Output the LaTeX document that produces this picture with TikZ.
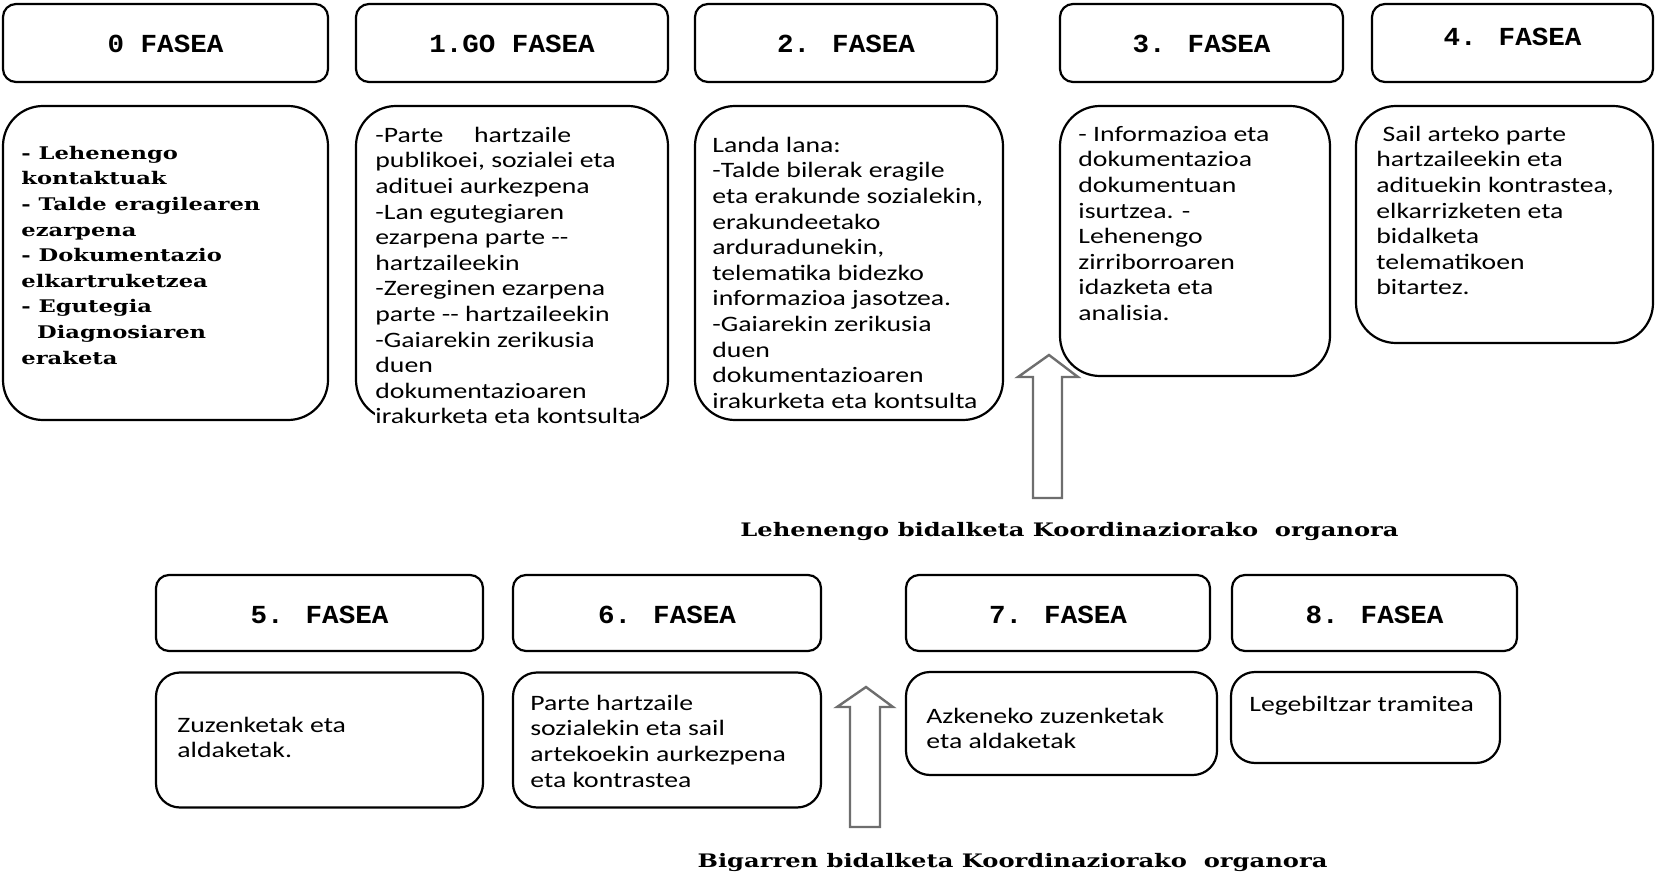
\documentclass[tikz,border=0pt]{standalone}
\usepackage{fontspec}
\usepackage{tikz}
\usetikzlibrary{positioning}
\newfontfamily\headfont[FakeStretch=1.06]{Liberation Mono}
\newfontfamily\bodyfont[FakeStretch=1.26]{Carlito}
\newfontfamily\slabfont[FakeStretch=1.3]{DejaVu Serif}
\definecolor{arrowgray}{RGB}{110,110,110}
\tikzstyle{fasehead} = [rectangle, rounded corners=6.5pt, draw=black, line width=1.1pt, inner sep=0pt, text height=10pt, text depth=0pt, font=\headfont\bfseries\fontsize{13}{15}\selectfont]
\tikzstyle{fasebox} = [rectangle, rounded corners=20pt, draw=black, line width=1.1pt, inner sep=0pt]
\tikzstyle{smallbox} = [fasebox, rounded corners=12pt]
\tikzstyle{fasetext} = [anchor=north west, inner sep=0pt, align=left, font=\bodyfont\fontsize{11}{12.8}\selectfont]
\tikzstyle{slabtext} = [fasetext, font=\slabfont\bfseries\fontsize{8.7}{12.8}\selectfont]
\tikzstyle{sendlabel} = [inner sep=0pt, font=\slabfont\bfseries\fontsize{9.3}{12}\selectfont]
\tikzstyle{blockarrow} = [draw=arrowgray, line width=1.2pt, fill=white, line join=miter]

\begin{document}
\begin{tikzpicture}[x=0.5pt,y=-0.5pt]
\useasboundingbox (0,0) rectangle (1655,877);
% Upper row: phase titles
\node (h0) [fasehead, minimum width=162.5pt, minimum height=39pt] at (165.5,43) {0 FASEA};
\node (h1) [fasehead, minimum width=156pt, minimum height=39pt] at (512,43) {1.GO FASEA};
\node (h2) [fasehead, minimum width=151pt, minimum height=39pt] at (846,43) {2. FASEA};
\node (h3) [fasehead, minimum width=141.5pt, minimum height=39pt] at (1201.5,43) {3. FASEA};
\node (h4) [fasehead, minimum width=140.5pt, minimum height=39pt, text height=7pt, text depth=4pt] at (1512.5,43) {4. FASEA};

% Upper row: phase contents
\node (c0) [fasebox, minimum width=162.5pt, minimum height=157pt] at (165.5,263) {};
\node (c1) [fasebox, minimum width=156pt, minimum height=157pt] at (512,263) {};
\node (c2) [fasebox, minimum width=154pt, minimum height=157pt] at (849,263) {};
\node (c3) [fasebox, minimum width=135pt, minimum height=135pt] at (1195,241) {};
\node (c4) [fasebox, minimum width=148.5pt, minimum height=118.5pt] at (1504.5,224.5) {};

\node (t0) [slabtext] at (21,141) {\strut- Lehenengo\\kontaktuak\\- Talde eragilearen\\ezarpena\\- Dokumentazio\\elkartruketzea\\- Egutegia\\\ \ Diagnosiaren\\eraketa};
\node (t1) [fasetext, fill=white] at (375,124) {\strut-Parte\hspace{1.4em}hartzaile\\publikoei, sozialei eta\\adituei aurkezpena\\-Lan egutegiaren\\ezarpena parte --\\hartzaileekin\\-Zereginen ezarpena\\parte -- hartzaileekin\\-Gaiarekin zerikusia\\duen\\dokumentazioaren\\irakurketa eta kontsulta};
\node (t2) [fasetext, fill=white] at (712,134) {\strut Landa lana:\\-Talde bilerak eragile\\eta erakunde sozialekin,\\erakundeetako\\arduradunekin,\\telematika bidezko\\informazioa jasotzea.\\-Gaiarekin zerikusia\\duen\\dokumentazioaren\\irakurketa eta kontsulta};
\node (t3) [fasetext] at (1078,123) {\strut- Informazioa eta\\dokumentazioa\\dokumentuan\\isurtzea. -\\Lehenengo\\zirriborroaren\\idazketa eta\\analisia.};
\node (t4) [fasetext] at (1376,123) {\strut\ Sail arteko parte\\hartzaileekin eta\\adituekin kontrastea,\\elkarrizketen eta\\bidalketa\\telematikoen\\bitartez.};

% First sending
\coordinate (a1tip) at (1049,355);
\draw[blockarrow] (a1tip) -- (1078,377) -- (1062,377) -- (1062,498) -- (1033,498) -- (1033,377) -- (1018,377) -- cycle;
\node (send1) [sendlabel] at (1069.5,531) {Lehenengo bidalketa Koordinaziorako\ \ organora};

% Lower row: phase titles
\node (h5) [fasehead, minimum width=163.5pt, minimum height=38pt] at (319.5,613) {5. FASEA};
\node (h6) [fasehead, minimum width=154pt, minimum height=38pt] at (667,613) {6. FASEA};
\node (h7) [fasehead, minimum width=152pt, minimum height=38pt] at (1058,613) {7. FASEA};
\node (h8) [fasehead, minimum width=142.5pt, minimum height=38pt] at (1374.5,613) {8. FASEA};

% Lower row: phase contents
\node (c5) [smallbox, minimum width=163.5pt, minimum height=67.5pt] at (319.5,740) {};
\node (c6) [smallbox, minimum width=154pt, minimum height=67.5pt] at (667,740) {};
\node (c7) [smallbox, minimum width=155.5pt, minimum height=51.5pt] at (1061.5,723.5) {};
\node (c8) [smallbox, minimum width=134.5pt, minimum height=45.5pt] at (1365.5,717.5) {};

\node (t5) [fasetext] at (177,714) {\strut Zuzenketak eta\\aldaketak.};
\node (t6) [fasetext] at (530,692) {\strut Parte hartzaile\\sozialekin eta sail\\artekoekin aurkezpena\\eta kontrastea};
\node (t7) [fasetext] at (926,705) {\strut Azkeneko zuzenketak\\eta aldaketak};
\node (t8) [fasetext] at (1249,693) {\strut Legebiltzar tramitea};

% Second sending
\coordinate (a2tip) at (866,687);
\draw[blockarrow] (a2tip) -- (893,707) -- (880,707) -- (880,827) -- (850,827) -- (850,707) -- (837,707) -- cycle;
\node (send2) [sendlabel] at (1012.5,862) {Bigarren bidalketa Koordinaziorako\ \ organora};
\end{tikzpicture}
\end{document}
